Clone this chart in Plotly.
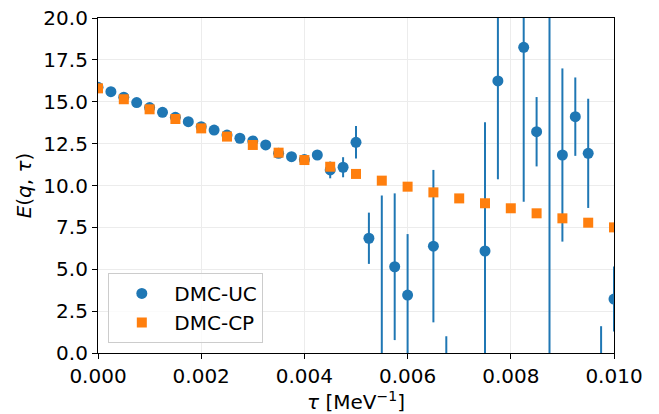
import plotly.graph_objects as go

# Imaginary-time grid (MeV^-1)
tau_uc = [0.0, 0.00025, 0.0005, 0.00075, 0.001, 0.00125, 0.0015, 0.00175, 0.002,
          0.00225, 0.0025, 0.00275, 0.003, 0.00325, 0.0035, 0.00375, 0.004, 0.00425,
          0.0045, 0.00475, 0.005, 0.00525, 0.0055, 0.00575, 0.006, 0.00625, 0.0065,
          0.00675, 0.007, 0.00725, 0.0075, 0.00775, 0.008, 0.00825, 0.0085, 0.00875,
          0.009, 0.00925, 0.0095, 0.00975, 0.01]
e_uc = [15.86, 15.6, 15.27, 14.95, 14.65, 14.37, 14.07, 13.81, 13.51,
        13.31, 13.01, 12.82, 12.66, 12.42, 11.92, 11.72, 11.55, 11.82,
        10.93, 11.09, 12.58, 6.85, -1.0, 5.15, 3.46, None, 6.38,
        -3.0, None, None, 6.09, 16.24, None, 18.25, 13.21, 24.0,
        11.82, 14.11, 11.92, -3.0, 3.22]
err_uc = [0.05, 0.05, 0.05, 0.05, 0.05, 0.05, 0.05, 0.05, 0.05,
          0.05, 0.05, 0.05, 0.05, 0.05, 0.1, 0.1, 0.1, 0.1,
          0.5, 0.6, 0.97, 1.53, 10.4, 4.38, 3.64, None, 4.55,
          4.0, None, None, 7.68, 5.87, None, 9.22, 2.07, 26.0,
          5.17, 2.34, 3.26, 4.6, 1.94]

tau_cp = [0.0, 0.0005, 0.001, 0.0015, 0.002, 0.0025, 0.003, 0.0035, 0.004, 0.0045,
          0.005, 0.0055, 0.006, 0.0065, 0.007, 0.0075, 0.008, 0.0085, 0.009, 0.0095, 0.01]
e_cp = [15.8, 15.15, 14.55, 13.97, 13.41, 12.92, 12.42, 11.96, 11.52, 11.12,
        10.69, 10.29, 9.93, 9.59, 9.23, 8.94, 8.64, 8.34, 8.04, 7.78, 7.5]
err_cp = [0.03] * len(tau_cp)

x_ticks = [0.0, 0.002, 0.004, 0.006, 0.008, 0.01]
x_tick_text = ["0.000", "0.002", "0.004", "0.006", "0.008", "0.010"]
y_ticks = [0.0, 2.5, 5.0, 7.5, 10.0, 12.5, 15.0, 17.5, 20.0]
y_tick_text = ["0.0", "2.5", "5.0", "7.5", "10.0", "12.5", "15.0", "17.5", "20.0"]

blue = "#1f77b4"
orange = "#ff7f0e"
FS = 20

fig = go.Figure()
fig.add_trace(go.Scatter(
    x=tau_uc, y=e_uc, mode="markers", name="DMC-UC",
    marker=dict(symbol="circle", size=11, color=blue),
    error_y=dict(type="data", array=err_uc, visible=True, color=blue,
                 thickness=2, width=0),
))
fig.add_trace(go.Scatter(
    x=tau_cp, y=e_cp, mode="markers", name="DMC-CP",
    marker=dict(symbol="square", size=10, color=orange),
    error_y=dict(type="data", array=err_cp, visible=True, color=orange,
                 thickness=2, width=0),
))

axis_common = dict(
    showline=True, linecolor="black", linewidth=1.2, mirror=True,
    ticks="outside", ticklen=5, tickwidth=1.2, tickcolor="black",
    showgrid=True, gridcolor="#ececec", gridwidth=1, zeroline=False,
    tickfont=dict(size=FS, color="black"), automargin=False,
)

fig.update_layout(
    width=659, height=414,
    margin=dict(l=98, r=45, t=18, b=61),
    paper_bgcolor="white", plot_bgcolor="white",
    font=dict(family="DejaVu Sans", color="black"),
    xaxis=dict(range=[0, 0.01], tickvals=x_ticks, ticktext=x_tick_text,
               title=dict(text="<i>τ</i> [MeV<sup>−1</sup>]", font=dict(size=FS), standoff=2),
               **axis_common),
    yaxis=dict(range=[0, 20], tickvals=y_ticks, ticktext=y_tick_text,
               title=dict(text="<i>E</i>(<i>q</i>, <i>τ</i>)", font=dict(size=FS), standoff=6),
               **axis_common),
    legend=dict(x=0.02, y=0.03, xanchor="left", yanchor="bottom",
                bgcolor="rgba(255,255,255,0.8)", bordercolor="#cccccc", borderwidth=1,
                font=dict(size=FS), itemwidth=55, tracegroupgap=4),
    showlegend=True,
)

fig.write_html("out.html")
